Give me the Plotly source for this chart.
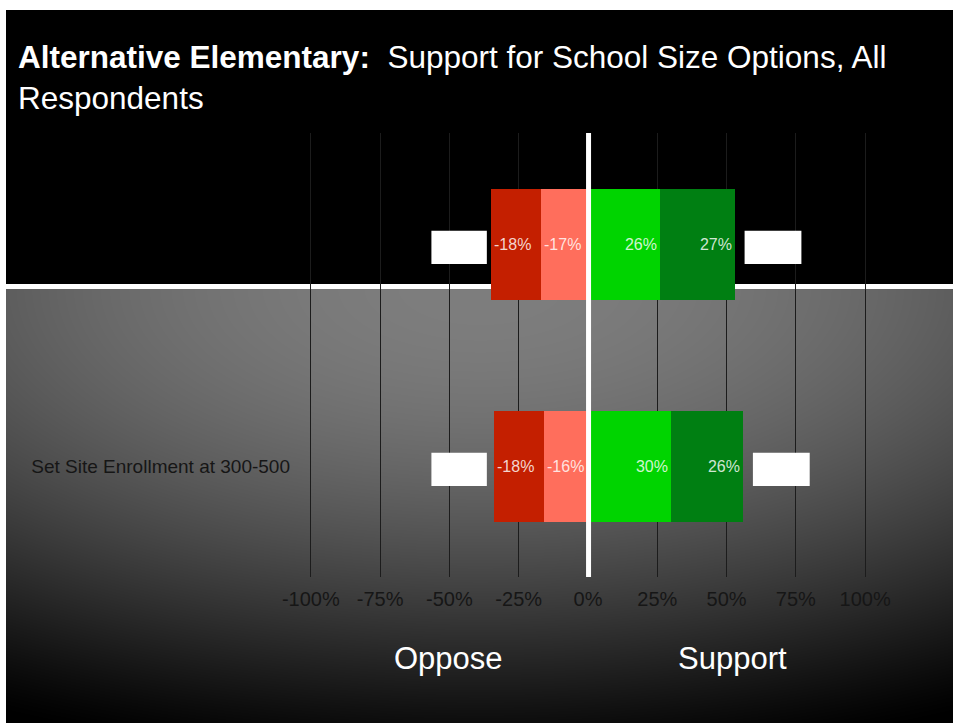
import base64
import struct
import zlib

import numpy as np
import plotly.graph_objects as go

# ---------------- data ----------------
categories = ["Set Site Enrollment at 300-500", ""]
strongly_oppose = [-18, -18]
oppose = [-16, -17]
support = [30, 26]
strongly_support = [26, 27]
x_ticks = [-100, -75, -50, -25, 0, 25, 50, 75, 100]
x_tick_labels = ["-100%", "-75%", "-50%", "-25%", "0%", "25%", "50%", "75%", "100%"]

# ---------------- geometry ----------------
W, H = 953, 723
L, R, T, B = 297, 74, 133, 146
PW, PH = W - L - R, H - T - B


def px_x(p):
    return (p - L) / PW


def px_y(p):
    return (H - B - p) / PH


# ---------------- background gradient (png data uri) ----------------
def make_bg(w, h, ox, oy):
    xs = np.arange(w)[None, :] + ox
    ys = np.arange(h)[:, None] + oy
    d2 = ((xs - 480) / 1050.0) ** 2 + ((ys - 287) / 480.0) ** 2
    val = 126 * np.clip(1 - d2, 0, 1) ** 1.3
    val = np.where(ys < 287, 0, val)
    arr = np.clip(val, 0, 255).astype(np.uint8)
    raw = b"".join(b"\x00" + arr[r].tobytes() for r in range(h))

    def chunk(tag, data):
        c = struct.pack(">I", len(data)) + tag + data
        return c + struct.pack(">I", zlib.crc32(tag + data) & 0xFFFFFFFF)

    png = b"\x89PNG\r\n\x1a\n"
    png += chunk(b"IHDR", struct.pack(">IIBBBBB", w, h, 8, 0, 0, 0, 0))
    png += chunk(b"IDAT", zlib.compress(raw, 9))
    png += chunk(b"IEND", b"")
    return "data:image/png;base64," + base64.b64encode(png).decode()


bg_uri = make_bg(W - 6, H - 10, 6, 10)

ypos = list(range(len(categories)))

fig = go.Figure()
series = [
    ("Oppose", oppose, "#FF6E5C"),
    ("Strongly Oppose", strongly_oppose, "#C41F00"),
    ("Support", support, "#00D400"),
    ("Strongly Support", strongly_support, "#007F12"),
]
for name, vals, col in series:
    fig.add_trace(go.Bar(
        name=name, y=ypos, x=vals, orientation="h",
        marker=dict(color=col, line=dict(width=0)),
        width=0.5,
        text=[f"{v}%" for v in vals],
        texttemplate="%{text}",
        textposition="inside",
        insidetextanchor="end",
        textangle=0,
        constraintext="none",
        textfont=dict(color="rgba(255,255,255,0.82)", size=16, family="Liberation Sans"),
        showlegend=False,
        hoverinfo="skip",
    ))

shapes = [
    # black header band (hides gridlines)
    dict(type="rect", xref="paper", yref="paper",
         x0=px_x(6), x1=px_x(W), y0=px_y(284), y1=px_y(10),
         fillcolor="black", line=dict(width=0), layer="between"),
    # white separator line
    dict(type="rect", xref="paper", yref="paper",
         x0=px_x(6), x1=px_x(W), y0=px_y(289), y1=px_y(284),
         fillcolor="white", line=dict(width=0), layer="between"),
    # vertical zero line
    dict(type="line", xref="x", yref="paper", x0=0.2, x1=0.2, y0=0, y1=1,
         line=dict(color="white", width=5), layer="above"),
]

totals = [s + ss for s, ss in zip(support, strongly_support)]
for yi, tot in zip(ypos, totals):
    shapes.append(dict(type="rect", xref="x", yref="y",
                       x0=-56.5, x1=-36.5, y0=yi - 0.09, y1=yi + 0.06,
                       fillcolor="white", line=dict(width=0), layer="above"))
    shapes.append(dict(type="rect", xref="x", yref="y",
                       x0=tot + 3.5, x1=tot + 24, y0=yi - 0.09, y1=yi + 0.06,
                       fillcolor="white", line=dict(width=0), layer="above"))

annotations = [
    dict(xref="paper", yref="paper", x=px_x(16), y=px_y(37),
         xanchor="left", yanchor="top", align="left", showarrow=False,
         text="<b>Alternative Elementary:</b>  Support for School Size Options, All<br>Respondents",
         font=dict(color="white", size=31.5, family="Liberation Sans")),
    dict(xref="x", yref="paper", x=-50.5, y=px_y(658), showarrow=False,
         xanchor="center", yanchor="middle",
         text="Oppose", font=dict(color="white", size=31, family="Liberation Sans")),
    dict(xref="x", yref="paper", x=52, y=px_y(658), showarrow=False,
         xanchor="center", yanchor="middle",
         text="Support", font=dict(color="white", size=31, family="Liberation Sans")),
]

fig.update_layout(
    width=W, height=H,
    margin=dict(l=L, r=R, t=T, b=B, pad=0),
    paper_bgcolor="white",
    plot_bgcolor="rgba(0,0,0,0)",
    barmode="relative",
    bargap=0,
    shapes=shapes,
    annotations=annotations,
    images=[dict(source=bg_uri, xref="paper", yref="paper",
                 x=px_x(6), y=px_y(10), sizex=(W - 6) / PW, sizey=(H - 10) / PH,
                 xanchor="left", yanchor="top", sizing="stretch", layer="below")],
    xaxis=dict(range=[-105, 105], tickvals=x_ticks, ticktext=x_tick_labels,
               showgrid=True, gridcolor="#1c1c1c", gridwidth=1,
               zeroline=False, showline=False, ticks="",
               ticklabelstandoff=8, automargin=False,
               tickfont=dict(color="#161616", size=20, family="Liberation Sans")),
    yaxis=dict(range=[-0.5, 1.5], tickvals=ypos, ticktext=categories,
               showgrid=False, zeroline=False, showline=False, ticks="",
               ticklabelstandoff=6, automargin=False,
               tickfont=dict(color="#161616", size=19, family="Liberation Sans")),
)

fig.write_html(
    "out.html",
    config={"displayModeBar": False},
    post_script="document.body.style.margin='0';document.body.style.overflow='hidden';",
)
